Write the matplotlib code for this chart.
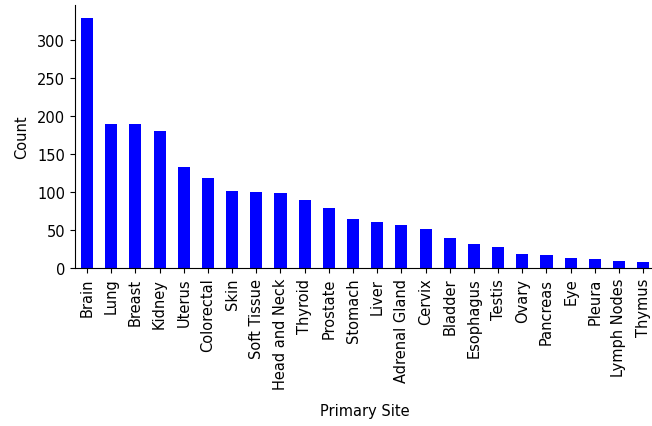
import matplotlib
matplotlib.use("Agg")
import matplotlib.pyplot as plt
import numpy as np

sites = ["Brain", "Lung", "Breast", "Kidney", "Uterus", "Colorectal", "Skin",
         "Soft Tissue", "Head and Neck", "Thyroid", "Prostate", "Stomach",
         "Liver", "Adrenal Gland", "Cervix", "Bladder", "Esophagus", "Testis",
         "Ovary", "Pancreas", "Eye", "Pleura", "Lymph Nodes", "Thymus"]
counts = [329, 189, 189, 180, 133, 118, 101, 100, 98, 89, 79, 64,
          61, 57, 51, 40, 31, 28, 18, 17, 13, 12, 9, 8]

plt.rcParams['font.size'] = 10.5

fig = plt.figure(figsize=(6.52, 4.27), dpi=100)
ax = fig.add_axes([0.115, 0.370, 0.890, 0.616])

x = np.arange(len(sites))
ax.bar(x, counts, width=0.5, color='blue')
ax.set_xlim(-0.5, len(sites) - 0.5)
ax.set_ylim(0, 345.5)
ax.set_xticks(x)
ax.set_xticklabels(sites, rotation=90)
ax.set_yticks(np.arange(0, 301, 50))
ax.set_xlabel('Primary Site', labelpad=10)
ax.set_ylabel('Count', labelpad=6)

ax.spines['top'].set_visible(False)
ax.spines['right'].set_visible(False)

fig.savefig('out.png', dpi=100)
